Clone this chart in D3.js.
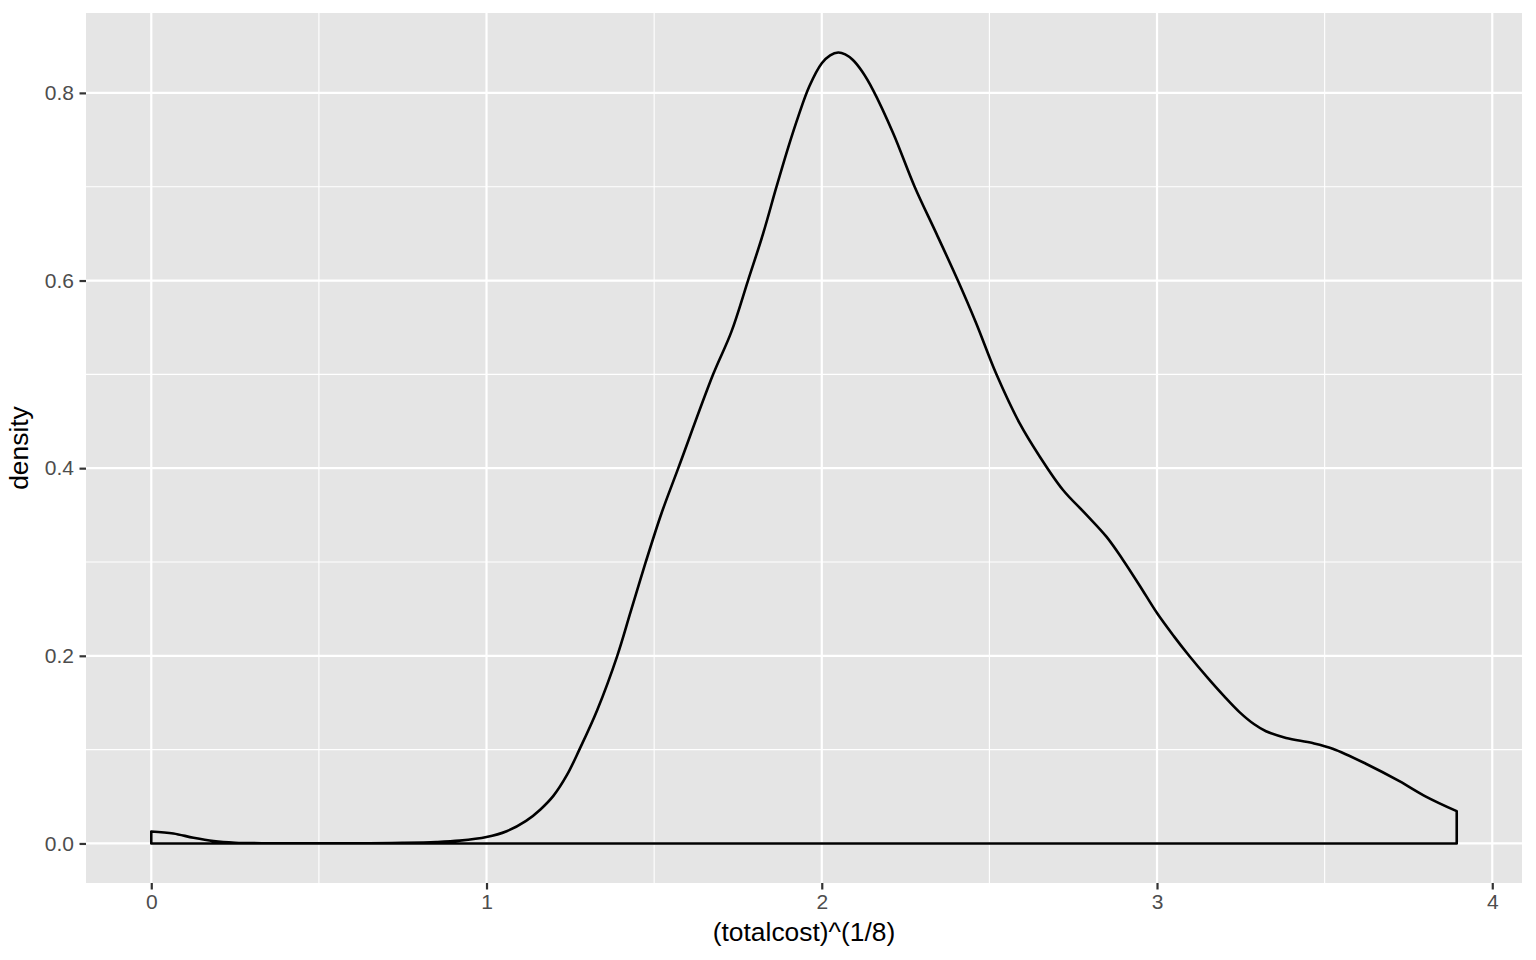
<!DOCTYPE html>
<html>
<head>
<meta charset="utf-8">
<script src="https://cdn.jsdelivr.net/npm/d3@7"></script>
<style>
  html, body { margin: 0; padding: 0; background: #ffffff; }
  svg { display: block; }
  text { font-family: "Liberation Sans", Arial, Helvetica, sans-serif; }
</style>
</head>
<body>
<svg id="chart" width="1536" height="960"></svg>
<script>
// Kernel density estimate: x = (totalcost)^(1/8)
const xValues = [0.0, 0.066, 0.126, 0.186, 0.25, 0.35, 0.5, 0.65, 0.75, 0.85, 0.92, 1.0, 1.06, 1.118, 1.16, 1.2, 1.24, 1.277, 1.33, 1.39, 1.43, 1.475, 1.522, 1.572, 1.676, 1.73, 1.78, 1.825, 1.865, 1.9, 1.93, 1.963, 2.0, 2.025, 2.049, 2.07, 2.093, 2.12, 2.153, 2.213, 2.277, 2.342, 2.406, 2.46, 2.521, 2.59, 2.65, 2.719, 2.789, 2.849, 2.898, 2.948, 3.001, 3.05, 3.097, 3.15, 3.2, 3.246, 3.29, 3.325, 3.385, 3.464, 3.524, 3.623, 3.723, 3.802, 3.894];
const densityValues = [0.0128, 0.0107, 0.006, 0.0025, 0.0008, 0.0002, 0.0001, 0.0002, 0.0006, 0.0015, 0.003, 0.0068, 0.013, 0.024, 0.036, 0.051, 0.073, 0.1, 0.142, 0.2, 0.247, 0.3, 0.352, 0.4, 0.5, 0.545, 0.6, 0.65, 0.7, 0.742, 0.775, 0.807, 0.8315, 0.840, 0.843, 0.841, 0.835, 0.823, 0.803, 0.757, 0.7, 0.65, 0.6, 0.555, 0.5, 0.448, 0.4125, 0.377, 0.3505, 0.327, 0.3025, 0.275, 0.245, 0.221, 0.1995, 0.177, 0.157, 0.140, 0.127, 0.1196, 0.1125, 0.107, 0.101, 0.085, 0.0664, 0.05, 0.0344];
const xTicks = [0, 1, 2, 3, 4];
const xTickLabels = ["0", "1", "2", "3", "4"];
const xMinor = [0.5, 1.5, 2.5, 3.5];
const yTicks = [0.0, 0.2, 0.4, 0.6, 0.8];
const yTickLabels = ["0.0", "0.2", "0.4", "0.6", "0.8"];
const yMinor = [0.1, 0.3, 0.5, 0.7];
const xTitle = "(totalcost)^(1/8)";
const yTitle = "density";

const svg = d3.select("#chart");
const panel = { left: 86, right: 1522, top: 13, bottom: 883 };

const xExt = d3.extent(xValues);
const xPad = (xExt[1] - xExt[0]) * 0.05;
const yMax = d3.max(densityValues);
const yPad = (yMax - 0) * 0.05;

const x = d3.scaleLinear().domain([xExt[0] - xPad, xExt[1] + xPad]).range([panel.left, panel.right]);
const y = d3.scaleLinear().domain([0 - yPad, yMax + yPad]).range([panel.bottom, panel.top]);

// panel background
svg.append("rect")
  .attr("x", panel.left).attr("y", panel.top)
  .attr("width", panel.right - panel.left).attr("height", panel.bottom - panel.top)
  .attr("fill", "#E5E5E5");

const grid = svg.append("g");
// minor grid
grid.selectAll(".xminor").data(xMinor).enter().append("line")
  .attr("x1", d => x(d)).attr("x2", d => x(d))
  .attr("y1", panel.top).attr("y2", panel.bottom)
  .attr("stroke", "#ffffff").attr("stroke-width", 1.1);
grid.selectAll(".yminor").data(yMinor).enter().append("line")
  .attr("x1", panel.left).attr("x2", panel.right)
  .attr("y1", d => y(d)).attr("y2", d => y(d))
  .attr("stroke", "#ffffff").attr("stroke-width", 1.1);
// major grid
grid.selectAll(".xmajor").data(xTicks).enter().append("line")
  .attr("x1", d => x(d)).attr("x2", d => x(d))
  .attr("y1", panel.top).attr("y2", panel.bottom)
  .attr("stroke", "#ffffff").attr("stroke-width", 2.2);
grid.selectAll(".ymajor").data(yTicks).enter().append("line")
  .attr("x1", panel.left).attr("x2", panel.right)
  .attr("y1", d => y(d)).attr("y2", d => y(d))
  .attr("stroke", "#ffffff").attr("stroke-width", 2.2);

// density outline (closed area, no fill)
const pts = xValues.map((v, i) => [v, densityValues[i]]);
const curveGen = d3.line().x(d => x(d[0])).y(d => y(d[1])).curve(d3.curveCatmullRom.alpha(0.5));
const curvePath = curveGen(pts);
const first = pts[0], last = pts[pts.length - 1];
const outline = "M" + x(first[0]) + "," + y(0) + "L" + curvePath.slice(1) +
  "L" + x(last[0]) + "," + y(0) + "Z";
svg.append("path")
  .attr("d", outline)
  .attr("fill", "none")
  .attr("stroke", "#000000")
  .attr("stroke-width", 2.6)
  .attr("stroke-linejoin", "round");

// x axis
const xAxis = d3.axisBottom(x).tickValues(xTicks)
  .tickFormat((d, i) => xTickLabels[i]).tickSize(6.5).tickPadding(5);
const gx = svg.append("g").attr("transform", `translate(0,${panel.bottom})`).call(xAxis);
gx.select(".domain").remove();
gx.selectAll(".tick line").attr("stroke", "#333333").attr("stroke-width", 2.2);
gx.selectAll(".tick text").attr("fill", "#4D4D4D").attr("font-size", 21)
  .attr("font-family", "'Liberation Sans', Arial, sans-serif");

// y axis
const yAxis = d3.axisLeft(y).tickValues(yTicks)
  .tickFormat((d, i) => yTickLabels[i]).tickSize(6.5).tickPadding(5.5);
const gy = svg.append("g").attr("transform", `translate(${panel.left},0)`).call(yAxis);
gy.select(".domain").remove();
gy.selectAll(".tick line").attr("stroke", "#333333").attr("stroke-width", 2.2);
gy.selectAll(".tick text").attr("fill", "#4D4D4D").attr("font-size", 21)
  .attr("font-family", "'Liberation Sans', Arial, sans-serif");

// axis titles
svg.append("text")
  .attr("x", (panel.left + panel.right) / 2).attr("y", 941)
  .attr("text-anchor", "middle").attr("font-size", 26.4).attr("fill", "#000000")
  .text(xTitle);
svg.append("text")
  .attr("transform", `translate(28,${(panel.top + panel.bottom) / 2}) rotate(-90)`)
  .attr("text-anchor", "middle").attr("font-size", 26.4).attr("fill", "#000000")
  .text(yTitle);
</script>
</body>
</html>
